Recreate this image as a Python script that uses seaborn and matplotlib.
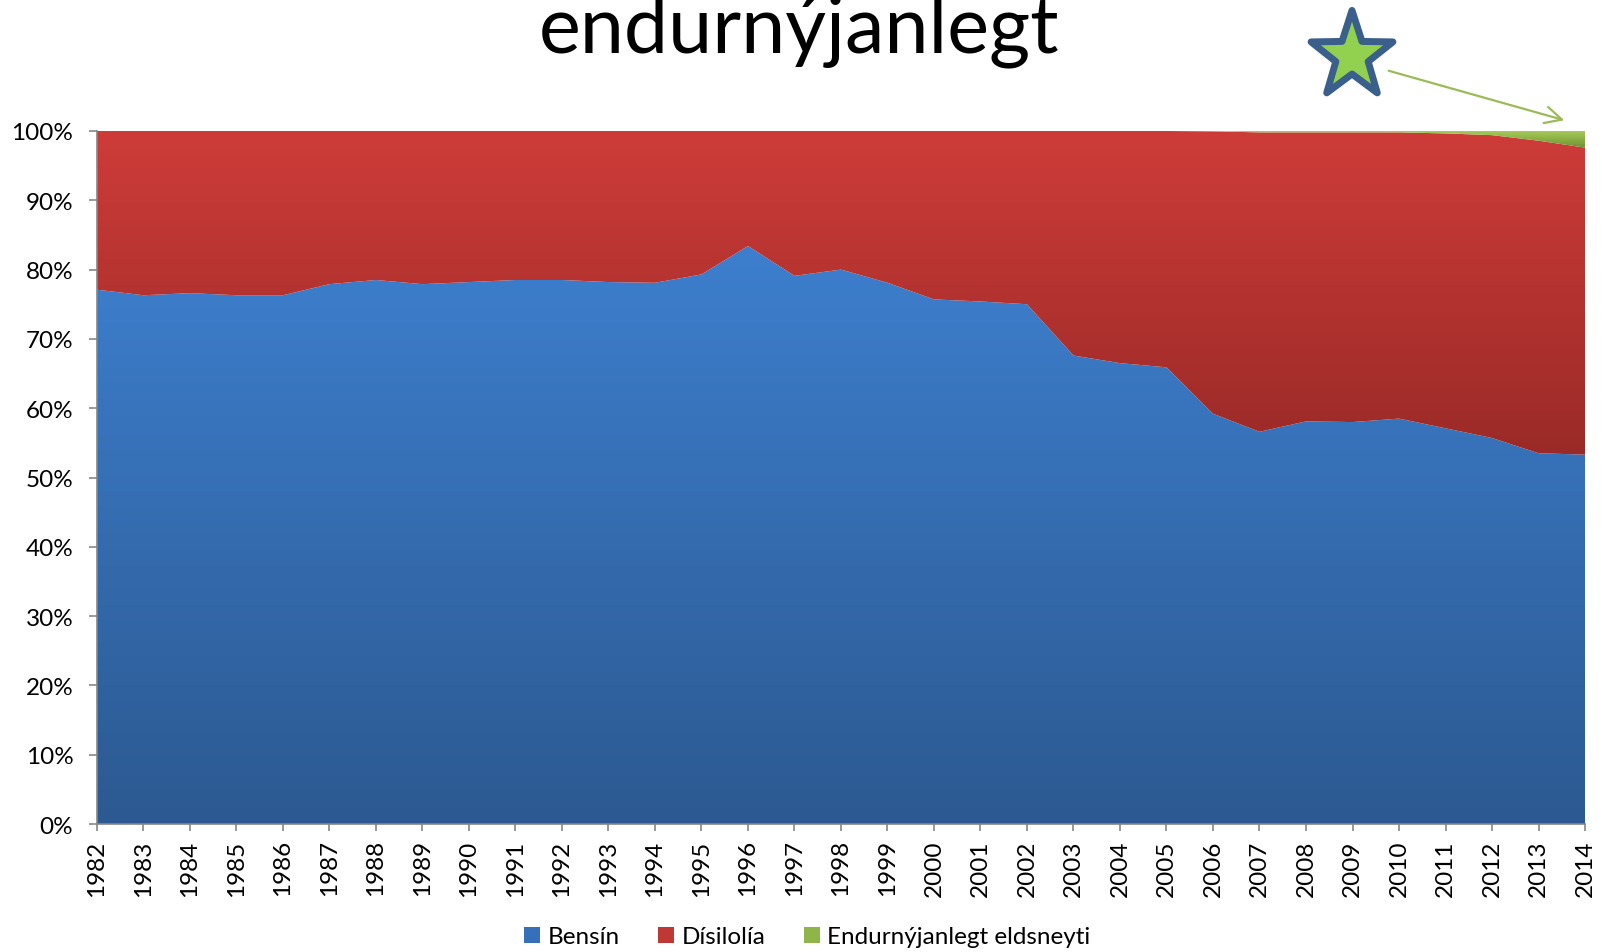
import numpy as np
import pandas as pd
import matplotlib
matplotlib.use("Agg")
import matplotlib.pyplot as plt
import seaborn as sns
from matplotlib.colors import LinearSegmentedColormap
from matplotlib.patches import Polygon, Patch, FancyArrowPatch
from matplotlib.ticker import FuncFormatter

YEARS = list(range(1982, 2015))
BENSIN = [77.1, 76.3, 76.6, 76.3, 76.3, 77.9, 78.5, 77.9, 78.2, 78.5, 78.5,
          78.2, 78.1, 79.3, 83.4, 79.1, 80.0, 78.1, 75.7, 75.4, 75.0, 67.6,
          66.5, 65.9, 59.2, 56.6, 58.1, 58.0, 58.5, 57.1, 55.7, 53.5, 53.3]
ENDURNYJANLEGT = [0.0] * 24 + [0.05, 0.2, 0.2, 0.2, 0.2, 0.35, 0.6, 1.4, 2.4]
LABELS = ["Bensín", "Dísilolía", "Endurnýjanlegt eldsneyti"]
TITLE = "endurnýjanlegt"

# gradient top / bottom colours per series
GRADIENTS = [("#3D7FCE", "#2C5991"), ("#CE3C39", "#9A2A27"), ("#A6CB58", "#6C9132")]
LEGEND_COLORS = ["#3670BA", "#C03835", "#8FB548"]

sns.set_theme(style="white")
plt.rcParams['font.family'] = ['Lato', 'DejaVu Sans']
plt.rcParams['text.color'] = 'black'


def build_frame():
    df = pd.DataFrame({'year': YEARS, 'Bensín': BENSIN,
                       'Endurnýjanlegt eldsneyti': ENDURNYJANLEGT})
    df['Dísilolía'] = 100 - df['Bensín'] - df['Endurnýjanlegt eldsneyti']
    return df


def gradient_fill(ax, x, lower, upper, top_col, bottom_col):
    poly = ax.fill_between(x, lower, upper, facecolor='none', edgecolor='none')
    cmap = LinearSegmentedColormap.from_list("g", [top_col, bottom_col])
    grad = np.linspace(0, 1, 256).reshape(-1, 1)
    y0, y1 = float(np.min(lower)), float(np.max(upper))
    im = ax.imshow(grad, cmap=cmap, aspect='auto', origin='upper',
                   extent=[x.min(), x.max(), y0, y1], interpolation='bilinear')
    path = poly.get_paths()[0]
    im.set_clip_path(path, transform=ax.transData)


df = build_frame()
x = df['year'].to_numpy(dtype=float)
layers = [df['Bensín'].to_numpy(), df['Dísilolía'].to_numpy(),
          df['Endurnýjanlegt eldsneyti'].to_numpy()]

fig = plt.figure(figsize=(16.02, 9.53), dpi=100)
ax = fig.add_axes([0.0605, 0.1343, 0.9289, 0.7272])

base = np.zeros_like(x)
for vals, (tc, bc) in zip(layers, GRADIENTS):
    gradient_fill(ax, x, base, base + vals, tc, bc)
    base = base + vals

ax.set_xlim(1982, 2014)
ax.set_ylim(0, 100)
ax.set_xticks(YEARS)
ax.set_xticklabels([str(y) for y in YEARS], rotation=90)
ax.set_yticks(range(0, 101, 10))
ax.yaxis.set_major_formatter(FuncFormatter(lambda v, p: f"{v:.0f}%"))
for s in ['top', 'right']:
    ax.spines[s].set_visible(False)
for s in ['left', 'bottom']:
    ax.spines[s].set_color('#868686')
    ax.spines[s].set_linewidth(1.2)
ax.tick_params(axis='y', length=6, width=1.2, color='#868686', pad=11,
               labelsize=17.5, left=True, labelcolor='black')
ax.tick_params(axis='x', length=5, width=1.2, color='#868686', pad=6,
               labelsize=17.5, bottom=True, labelcolor='black')
ax.grid(False)

fig.text(0.4988, 1 - 52 / 953, TITLE, ha='center', va='baseline', fontsize=57)

handles = [Patch(facecolor=c, edgecolor='none') for c in LEGEND_COLORS]
fig.legend(handles, LABELS, loc='center', bbox_to_anchor=(0.504, 0.016),
           ncol=3, frameon=False, fontsize=17.5, handlelength=0.65,
           handleheight=0.65, handletextpad=0.3, columnspacing=1.6)

# overlay for the star and arrow, in pixel coordinates
ov = fig.add_axes([0, 0, 1, 1], facecolor='none')
ov.set_xlim(0, 1602)
ov.set_ylim(953, 0)
ov.axis('off')
cx, cy, r_out, r_in = 1352, 57, 43, 17
ang = np.pi / 2 + np.arange(10) * np.pi / 5
rad = np.where(np.arange(10) % 2 == 0, r_out, r_in)
star = np.column_stack([cx + rad * np.cos(ang), cy - rad * np.sin(ang) * 1.06])
ov.add_patch(Polygon(star, closed=True, facecolor='#92D050',
                     edgecolor='#3A5F8B', linewidth=5, joinstyle='round'))
ov.add_patch(FancyArrowPatch((1386, 71), (1567, 122), arrowstyle='->,head_length=12,head_width=6',
                             color='#9BBB59', linewidth=1.6, mutation_scale=1))

fig.savefig("out.png", dpi=100)
